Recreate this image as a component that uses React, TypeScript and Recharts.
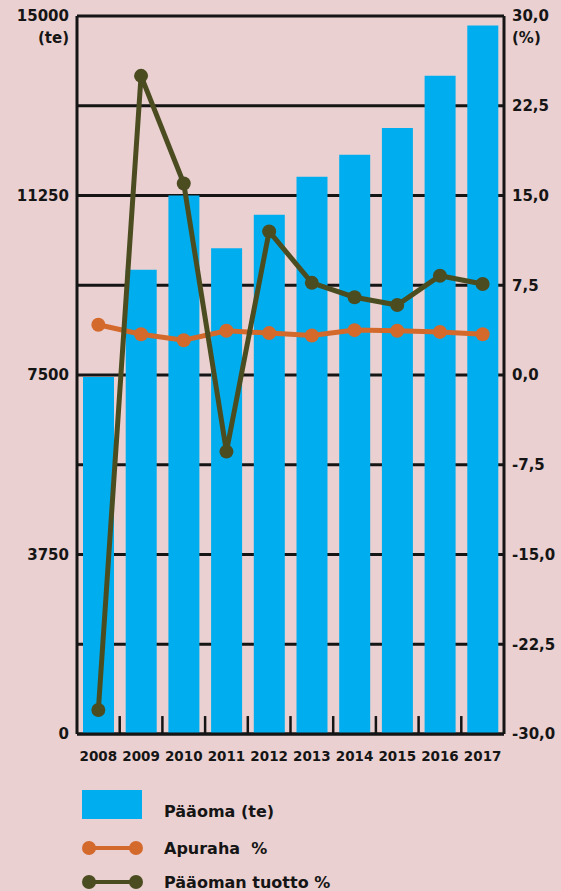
import React from "react";
import {
  ComposedChart,
  Bar,
  Line,
  XAxis,
  YAxis,
  CartesianGrid,
  ReferenceLine,
} from "recharts";

const YEARS = ["2008", "2009", "2010", "2011", "2012", "2013", "2014", "2015", "2016", "2017"];
const PAAOMA = [7460, 9700, 11250, 10150, 10850, 11640, 12100, 12660, 13750, 14800];
const APURAHA = [4.2, 3.4, 2.9, 3.7, 3.5, 3.3, 3.75, 3.7, 3.6, 3.4];
const TUOTTO = [-28.0, 25.0, 16.0, -6.4, 12.0, 7.7, 6.5, 5.85, 8.3, 7.6];

const LEFT_TICKS = [0, 3750, 7500, 11250, 15000];
const RIGHT_TICKS = [-30, -22.5, -15, -7.5, 0, 7.5, 15, 22.5, 30];

const LABELS = {
  bar: "Pääoma (te)",
  apuraha: "Apuraha  %",
  tuotto: "Pääoman tuotto %",
};

const BG = "#ebd0d1";
const BLUE = "#00aeef";
const ORANGE = "#d4692c";
const OLIVE = "#4b4d21";
const INK = "#151515";
const FONT = "'DejaVu Sans', sans-serif";

const LEFT_MAX = LEFT_TICKS[LEFT_TICKS.length - 1];
// separator height: about 2.5% of the left scale
const SEP_LEN = LEFT_MAX * 0.025;

const data = YEARS.map((year, i) => ({
  year,
  paaoma: PAAOMA[i],
  apuraha: APURAHA[i],
  tuotto: TUOTTO[i],
}));

const fmtPct = (v: number) => v.toFixed(1).replace(".", ",");

const LeftTick = (props: any) => {
  const { x, y, payload } = props;
  return (
    <text x={x} y={y} textAnchor="end" fill={INK} fontFamily={FONT} fontSize={15} fontWeight={700}>
      <tspan x={x} dy="0.355em">{payload.value}</tspan>
      {payload.value === LEFT_MAX && <tspan x={x} dy="1.45em">(te)</tspan>}
    </text>
  );
};

const RightTick = (props: any) => {
  const { x, y, payload } = props;
  return (
    <text x={x} y={y} textAnchor="start" fill={INK} fontFamily={FONT} fontSize={15} fontWeight={700}>
      <tspan x={x} dy="0.355em">{fmtPct(payload.value)}</tspan>
      {payload.value === RIGHT_TICKS[RIGHT_TICKS.length - 1] && (
        <tspan x={x} dy="1.45em">(%)</tspan>
      )}
    </text>
  );
};

const YearTick = (props: any) => {
  const { x, y, payload } = props;
  return (
    <text x={x} y={y} dy="0.71em" textAnchor="middle" fill={INK} fontFamily={FONT} fontSize={13.5} fontWeight={700}>
      {payload.value}
    </text>
  );
};

function LegendRow({ kind, color, label, top }: { kind: "bar" | "line"; color: string; label: string; top: number }) {
  return (
    <div style={{ position: "absolute", left: 82, top, display: "flex", alignItems: "center", height: 34 }}>
      <svg width={82} height={34} style={{ flex: "none" }}>
        {kind === "bar" ? (
          <rect x={0} y={2} width={60} height={29} fill={color} />
        ) : (
          <g>
            <line x1={7} x2={54} y1={17} y2={17} stroke={color} strokeWidth={4} />
            <circle cx={7} cy={17} r={7} fill={color} />
            <circle cx={54} cy={17} r={7} fill={color} />
          </g>
        )}
      </svg>
      <span style={{ fontFamily: FONT, fontWeight: 700, fontSize: 16, color: INK, whiteSpace: "pre", marginTop: kind === "bar" ? 12 : 0 }}>
        {label}
      </span>
    </div>
  );
}

export default function App() {
  return (
    <div style={{ position: "absolute", left: 0, top: 0, width: 561, height: 891, background: BG, overflow: "hidden" }}>
      <ComposedChart
        width={561}
        height={780}
        data={data}
        margin={{ top: 16, right: 0, bottom: 0, left: 0 }}
        barCategoryGap={0}
      >
        <CartesianGrid yAxisId="right" vertical={false} stroke={INK} strokeWidth={3} />
        <XAxis
          dataKey="year"
          height={46}
          tickLine={false}
          tickSize={6}
          tickMargin={11}
          axisLine={{ stroke: INK, strokeWidth: 3 }}
          tick={<YearTick />}
          interval={0}
        />
        <YAxis
          yAxisId="left"
          orientation="left"
          width={77}
          domain={[0, LEFT_MAX]}
          ticks={LEFT_TICKS}
          tickLine={false}
          axisLine={{ stroke: INK, strokeWidth: 3 }}
          tick={<LeftTick />}
        />
        <YAxis
          yAxisId="right"
          orientation="right"
          width={57}
          domain={[-30, 30]}
          ticks={RIGHT_TICKS}
          tickLine={false}
          axisLine={{ stroke: INK, strokeWidth: 3 }}
          tick={<RightTick />}
        />
        <Bar yAxisId="left" dataKey="paaoma" name={LABELS.bar} fill={BLUE} barSize={31} isAnimationActive={false} />
        {YEARS.slice(1).map((year) => (
          <ReferenceLine
            key={year}
            yAxisId="left"
            position="start"
            segment={[
              { x: year, y: 0 },
              { x: year, y: SEP_LEN },
            ]}
            stroke={INK}
            strokeWidth={2.5}
          />
        ))}
        <Line
          yAxisId="right"
          type="linear"
          dataKey="apuraha"
          name={LABELS.apuraha}
          stroke={ORANGE}
          strokeWidth={5}
          dot={{ r: 7, fill: ORANGE, stroke: ORANGE, strokeWidth: 0 }}
          activeDot={false}
          isAnimationActive={false}
        />
        <Line
          yAxisId="right"
          type="linear"
          dataKey="tuotto"
          name={LABELS.tuotto}
          stroke={OLIVE}
          strokeWidth={5}
          dot={{ r: 7, fill: OLIVE, stroke: OLIVE, strokeWidth: 0 }}
          activeDot={false}
          isAnimationActive={false}
        />
      </ComposedChart>
      <LegendRow kind="bar" color={BLUE} label={LABELS.bar} top={788} />
      <LegendRow kind="line" color={ORANGE} label={LABELS.apuraha} top={831} />
      <LegendRow kind="line" color={OLIVE} label={LABELS.tuotto} top={865} />
    </div>
  );
}
